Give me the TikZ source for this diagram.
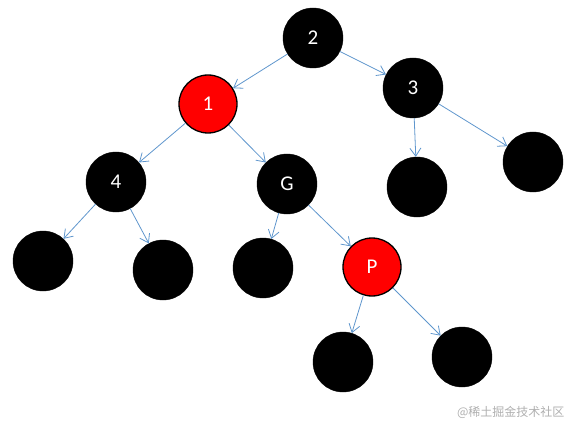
\documentclass[tikz,border=0pt]{standalone}
\usepackage{fontspec}
\setmainfont{Carlito}
\newfontfamily\cjk{Noto Sans CJK SC}
\usetikzlibrary{arrows.meta}

\definecolor{edgeblue}{RGB}{95,150,205}
\definecolor{markgray}{RGB}{175,175,175}

\tikzset{
  blacknode/.style={circle, fill=black, draw=black, minimum size=60pt, inner sep=0pt,
    text=white, font=\fontsize{21}{24}\selectfont},
  rednode/.style={circle, fill=red, draw=black, line width=1.3pt, minimum size=58pt, inner sep=0pt,
    text=white, font=\fontsize{21}{24}\selectfont},
  treeedge/.style={draw=edgeblue, line width=0.8pt, -{Straight Barb[length=8pt,width=11pt]}}
}

\begin{document}
\begin{tikzpicture}[x=1pt, y=-1pt]
    \useasboundingbox (0,0) rectangle (573,425);

    % Root and first level
    \node[blacknode] (n2) at (313,38) {2};
    \node[rednode] (n1) at (208,104) {1};
    \node[blacknode] (n3) at (413,88) {3};

    % Second level
    \node[blacknode] (n4) at (116,182) {4};
    \node[blacknode] (G) at (287,184) {G};
    \node[blacknode] (l3a) at (417,187) {};
    \node[blacknode] (l3b) at (533,162) {};

    % Third level
    \node[blacknode] (l4a) at (43,261) {};
    \node[blacknode] (l4b) at (163,270) {};
    \node[blacknode] (lGa) at (263,268) {};
    \node[rednode] (P) at (372,267) {P};

    % Fourth level
    \node[blacknode] (lPa) at (343,362) {};
    \node[blacknode] (lPb) at (462,357) {};

    % Edges
    \draw[treeedge] (n2) -- (n1);
    \draw[treeedge] (n2) -- (n3);
    \draw[treeedge] (n1) -- (n4);
    \draw[treeedge] (n1) -- (G);
    \draw[treeedge] (n3) -- (l3a);
    \draw[treeedge] (n3) -- (l3b);
    \draw[treeedge] (n4) -- (l4a);
    \draw[treeedge] (n4) -- (l4b);
    \draw[treeedge] (G) -- (lGa);
    \draw[treeedge] (G) -- (P);
    \draw[treeedge] (P) -- (lPa);
    \draw[treeedge] (P) -- (lPb);

    % Watermark
    \node[anchor=east, text=markgray, font=\cjk\fontsize{12}{14}\selectfont] (mark) at (568,412) {@稀土掘金技术社区};
\end{tikzpicture}
\end{document}
